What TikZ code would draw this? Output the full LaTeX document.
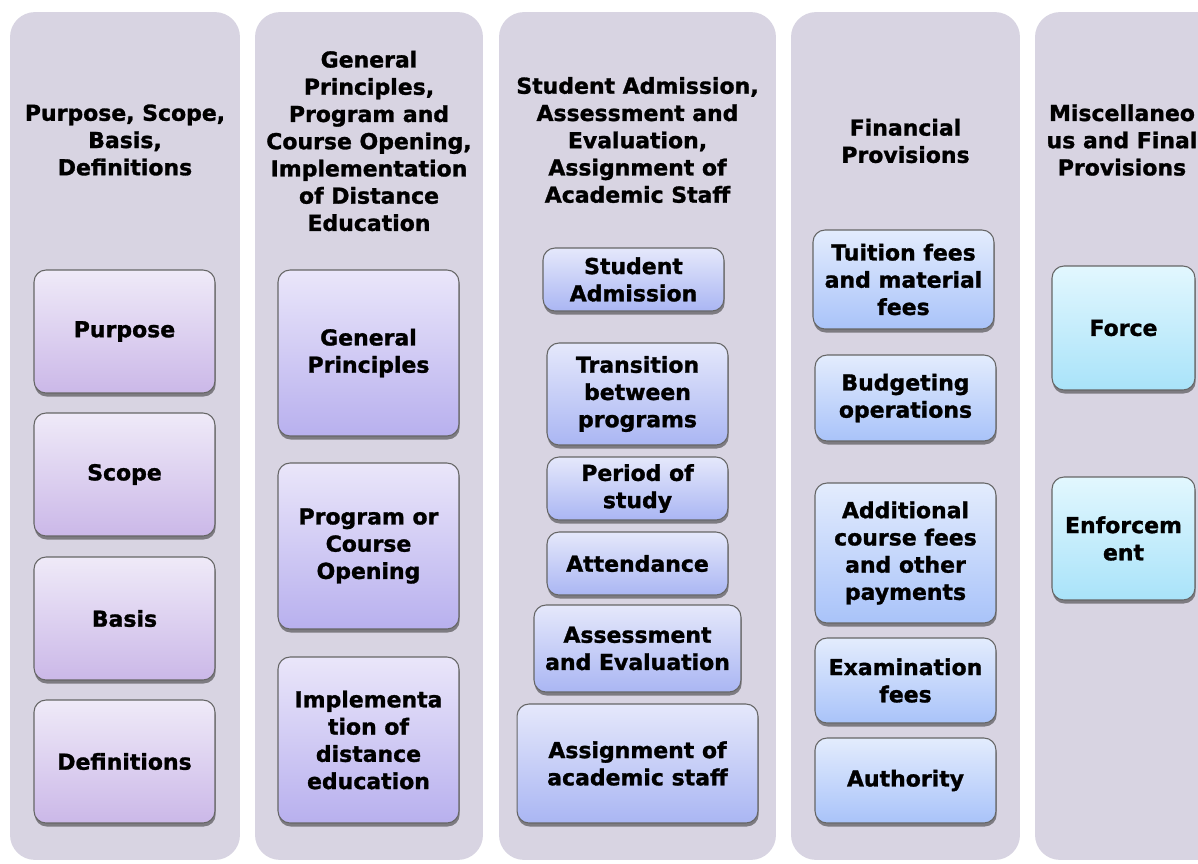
\documentclass[tikz,border=0pt]{standalone}
\usepackage{fontspec}
\setmainfont{DejaVu Sans}[BoldFeatures={FakeBold=1.3}]
\usepackage{xcolor}
\usepackage{tikz}
\usetikzlibrary{shadows}

\definecolor{colbg}{HTML}{D8D4E2}
\definecolor{topA}{HTML}{EFEAF8}\definecolor{botA}{HTML}{CBB8E8}
\definecolor{topB}{HTML}{EAE6FA}\definecolor{botB}{HTML}{B8B0EE}
\definecolor{topC}{HTML}{E5E8FB}\definecolor{botC}{HTML}{AAB6F3}
\definecolor{topD}{HTML}{E3ECFD}\definecolor{botD}{HTML}{A9C3F9}
\definecolor{topE}{HTML}{E2F7FE}\definecolor{botE}{HTML}{A9E3F9}

\begin{document}
\begin{tikzpicture}[x=0.02cm,y=-0.02cm,
font=\fontsize{12.5}{15.5}\selectfont\bfseries,
column/.style={fill=colbg,rounded corners=0.5cm,minimum width=#1,minimum height=16.96cm,inner sep=0pt},
header/.style={align=center,inner sep=0pt},
item/.style={draw=black!60,line width=0.6pt,rounded corners=0.24cm,align=center,inner sep=2pt,
  drop shadow={shadow xshift=0.4pt,shadow yshift=-2pt,opacity=0.55,fill=black!80}},
itemA/.style={item,top color=topA,bottom color=botA},
itemB/.style={item,top color=topB,bottom color=botB},
itemC/.style={item,top color=topC,bottom color=botC},
itemD/.style={item,top color=topD,bottom color=botD},
itemE/.style={item,top color=topE,bottom color=botE}
]
\clip (0,0) rectangle (1198,863);
\fill[white] (0,0) rectangle (1198,863);
% columns
\node[column=4.6cm] (colA) at (125,436) {};
\node[column=4.56cm] (colB) at (369,436) {};
\node[column=5.54cm] (colC) at (637.5,436) {};
\node[column=4.58cm] (colD) at (905.5,436) {};
\node[column=4.6cm] (colE) at (1150,436) {};
% headers
\node[header] (hA) at (125,140) {Purpose, Scope,\\Basis,\\Definitions};
\node[header] (hB) at (369,141) {General\\Principles,\\Program and\\Course Opening,\\Implementation\\of Distance\\Education};
\node[header] (hC) at (637.5,140) {Student Admission,\\Assessment and\\Evaluation,\\Assignment of\\Academic Staff};
\node[header] (hD) at (905.5,141) {Financial\\Provisions};
\node[header] (hE) at (1122,140) {Miscellaneo\\us and Final\\Provisions};
% purpose, scope
\node[itemA,minimum width=3.62cm,minimum height=2.46cm] (purpose) at (124.5,331.5) {Purpose};
\node[itemA,minimum width=3.62cm,minimum height=2.46cm] (scope) at (124.5,474.5) {Scope};
\node[itemA,minimum width=3.62cm,minimum height=2.46cm] (basis) at (124.5,618.5) {Basis};
\node[itemA,minimum width=3.62cm,minimum height=2.46cm] (defs) at (124.5,761.5) {Definitions};
% general principles
\node[itemB,minimum width=3.62cm,minimum height=3.32cm] (genprin) at (368.5,353) {General\\Principles};
\node[itemB,minimum width=3.62cm,minimum height=3.32cm] (opening) at (368.5,546) {Program or\\Course\\Opening};
\node[itemB,minimum width=3.62cm,minimum height=3.32cm] (distance) at (368.5,740) {Implementa\\tion of\\distance\\education};
% admission, assessment
\node[itemC,minimum width=3.62cm,minimum height=1.26cm] (admission) at (633.5,279.5) {Student\\Admission};
\node[itemC,minimum width=3.62cm,minimum height=2.04cm] (transition) at (637.5,394) {Transition\\between\\programs};
\node[itemC,minimum width=3.62cm,minimum height=1.26cm] (period) at (637.5,488.5) {Period of\\study};
\node[itemC,minimum width=3.62cm,minimum height=1.26cm] (attendance) at (637.5,563.5) {Attendance};
\node[itemC,minimum width=4.14cm,minimum height=1.74cm] (assessment) at (637.5,648.5) {Assessment\\and Evaluation};
\node[itemC,minimum width=4.82cm,minimum height=2.38cm] (staff) at (637.5,763.5) {Assignment of\\academic staff};
% financial
\node[itemD,minimum width=3.62cm,minimum height=1.98cm] (tuition) at (903.5,279.5) {Tuition fees\\and material\\fees};
\node[itemD,minimum width=3.62cm,minimum height=1.72cm] (budget) at (905.5,398) {Budgeting\\operations};
\node[itemD,minimum width=3.62cm,minimum height=2.8cm] (addfees) at (905.5,553) {Additional\\course fees\\and other\\payments};
\node[itemD,minimum width=3.62cm,minimum height=1.7cm] (examfees) at (905.5,680.5) {Examination\\fees};
\node[itemD,minimum width=3.62cm,minimum height=1.7cm] (authority) at (905.5,780.5) {Authority};
% final provisions
\node[itemE,minimum width=2.86cm,minimum height=2.48cm] (force) at (1123.5,328) {Force};
\node[itemE,minimum width=2.86cm,minimum height=2.46cm] (enforce) at (1123.5,538.5) {Enforcem\\ent};
\end{tikzpicture}
\end{document}
